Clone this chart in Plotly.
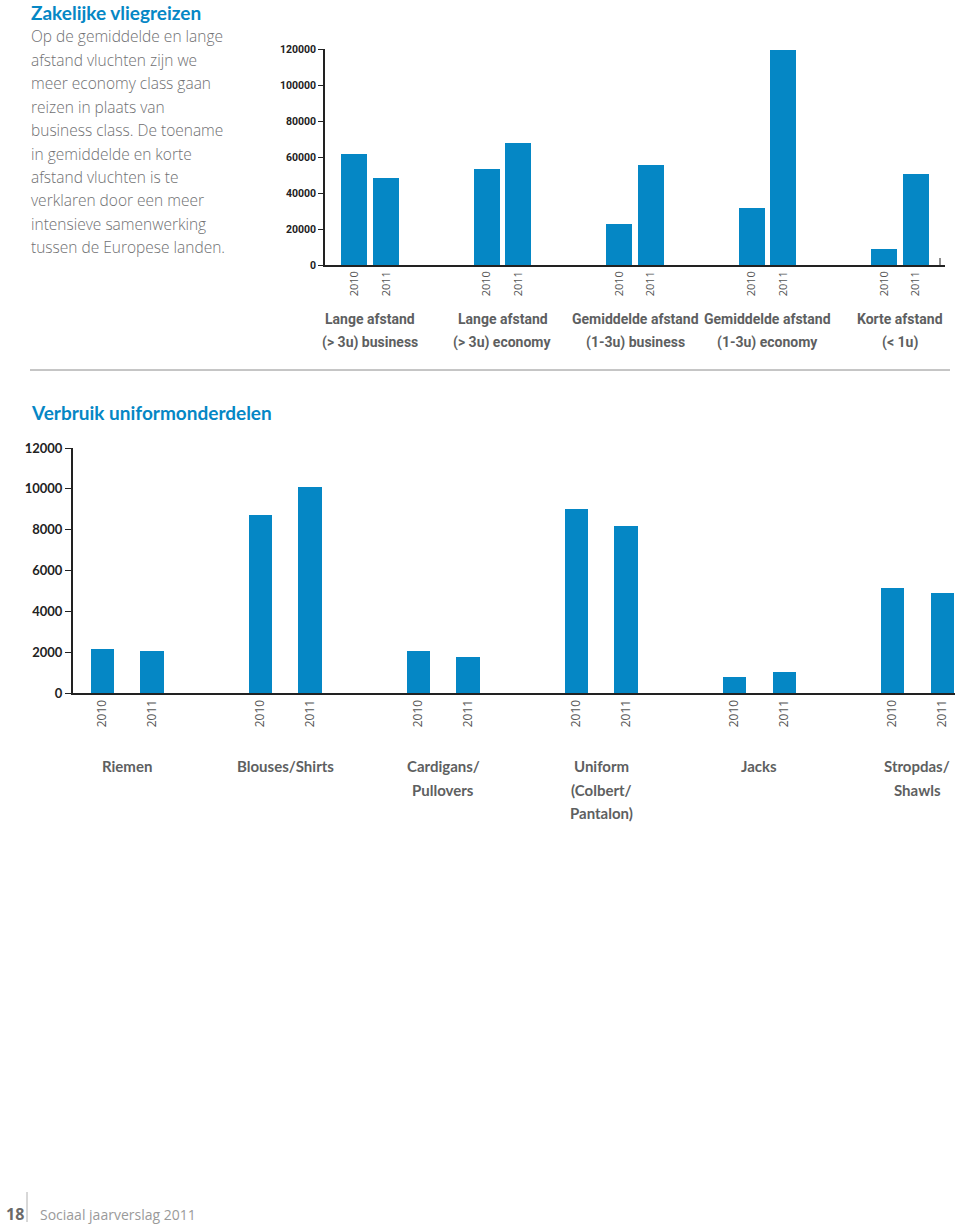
import plotly.graph_objects as go

# ---------------- data ----------------
years = ["2010", "2011"]

flight_groups = [
    ["Lange afstand", "(&gt; 3u) business"],
    ["Lange afstand", "(&gt; 3u) economy"],
    ["Gemiddelde afstand", "(1-3u) business"],
    ["Gemiddelde afstand", "(1-3u) economy"],
    ["Korte afstand", "(&lt; 1u)"],
]
flight_2010 = [61700, 53100, 23000, 31400, 9100]
flight_2011 = [48100, 67800, 55700, 119600, 50700]
flight_ticks = [0, 20000, 40000, 60000, 80000, 100000, 120000]

uniform_groups = [
    ["Riemen"],
    ["Blouses/Shirts"],
    ["Cardigans/", "Pullovers"],
    ["Uniform", "(Colbert/", "Pantalon)"],
    ["Jacks"],
    ["Stropdas/", "Shawls"],
]
uniform_2010 = [2150, 8700, 2040, 9000, 780, 5140]
uniform_2011 = [2050, 10100, 1780, 8200, 1010, 4880]
uniform_ticks = [0, 2000, 4000, 6000, 8000, 10000, 12000]

paragraph = [
    "Op de gemiddelde en lange",
    "afstand vluchten zijn we",
    "meer economy class gaan",
    "reizen in plaats van",
    "business class. De toename",
    "in gemiddelde en korte",
    "afstand vluchten is te",
    "verklaren door een meer",
    "intensieve samenwerking",
    "tussen de Europese landen.",
]

# ---------------- styling ----------------
W, H = 960, 1224
BLUE = "#0587C5"
GREY_TXT = "#6f7072"
LABEL_TXT = "#5e5f61"


def px(x):
    return x / W


def py(y):
    return 1 - y / H


fig = go.Figure()

top_off = 0.12
top_w = 0.196
for yi, (yr, vals) in enumerate(zip(years, [flight_2010, flight_2011])):
    xs = [i + (-top_off if yi == 0 else top_off) for i in range(len(vals))]
    fig.add_trace(go.Bar(x=xs, y=vals, width=top_w, marker=dict(color=BLUE, line=dict(width=0)),
                         name=yr, xaxis="x", yaxis="y", showlegend=False))

bot_off = 0.158
bot_w = 0.146
for yi, (yr, vals) in enumerate(zip(years, [uniform_2010, uniform_2011])):
    xs = [i + (-bot_off if yi == 0 else bot_off) for i in range(len(vals))]
    fig.add_trace(go.Bar(x=xs, y=vals, width=bot_w, marker=dict(color=BLUE, line=dict(width=0)),
                         name=yr, xaxis="x2", yaxis="y2", showlegend=False))

top_tickvals, top_ticktext = [], []
for i in range(len(flight_groups)):
    top_tickvals += [i - top_off, i + top_off]
    top_ticktext += years
bot_tickvals, bot_ticktext = [], []
for i in range(len(uniform_groups)):
    bot_tickvals += [i - bot_off, i + bot_off]
    bot_ticktext += years

top_dom_y = [py(265), py(49)]
bot_dom_y = [py(693), py(448)]

fig.update_layout(
    width=W, height=H, autosize=False,
    margin=dict(l=0, r=0, t=0, b=0, pad=0, autoexpand=False),
    paper_bgcolor="white", plot_bgcolor="white",
    bargap=0, showlegend=False,
    xaxis=dict(domain=[px(325), px(945)], range=[-0.34, 4.34], showgrid=False, zeroline=False,
               showline=True, linecolor="#222", linewidth=1.5, automargin=False,
               tickmode="array", tickvals=top_tickvals, ticktext=top_ticktext, tickangle=-90,
               ticks="", tickfont=dict(family="Open Sans", size=11, color="#555"), anchor="y"),
    yaxis=dict(domain=top_dom_y, range=[0, 120000], showgrid=False, zeroline=False,
               showline=True, linecolor="#222", linewidth=1.5, automargin=False,
               tickmode="array", tickvals=flight_ticks, ticktext=[str(t) for t in flight_ticks],
               ticks="outside", ticklen=5, tickcolor="#222",
               tickfont=dict(family="Roboto", size=10.5, color="#222", weight="bold"),
               anchor="x"),
    xaxis2=dict(domain=[px(73), px(955)], range=[-0.342, 5.24], showgrid=False, zeroline=False,
                showline=True, linecolor="#222", linewidth=2, automargin=False,
                tickmode="array", tickvals=bot_tickvals, ticktext=bot_ticktext, tickangle=-90,
                ticks="", tickfont=dict(family="Open Sans", size=12, color="#555"), anchor="y2"),
    yaxis2=dict(domain=bot_dom_y, range=[0, 12000], showgrid=False, zeroline=False,
                showline=True, linecolor="#222", linewidth=2, automargin=False,
                tickmode="array", tickvals=uniform_ticks, ticktext=[str(t) for t in uniform_ticks],
                ticks="outside", ticklen=6, tickcolor="#222",
                tickfont=dict(family="Lato", size=13, color="#222", weight="bold"),
                anchor="x2"),
)

ann = []
ann.append(dict(text="<b>Zakelijke vliegreizen</b>", x=px(29), y=py(13), xref="paper", yref="paper",
                xanchor="left", yanchor="middle", showarrow=False,
                font=dict(family="Lato", size=19, color=BLUE)))
for k, line in enumerate(paragraph):
    ann.append(dict(text=line, x=px(29), y=py(36 + k * 23.5), xref="paper", yref="paper",
                    xanchor="left", yanchor="middle", showarrow=False,
                    font=dict(family="Open Sans", size=15.5, color=GREY_TXT, weight=300)))

ann.append(dict(text="<b>Verbruik uniformonderdelen</b>", x=px(29), y=py(412), xref="paper", yref="paper",
                xanchor="left", yanchor="middle", showarrow=False,
                font=dict(family="Lato", size=19, color=BLUE)))

for i, lines in enumerate(flight_groups):
    for k, line in enumerate(lines):
        ann.append(dict(text="<b>" + line + "</b>", x=i, y=top_dom_y[0], xref="x", yref="paper",
                        xanchor="center", yanchor="middle", yshift=-(54 + 23 * k), showarrow=False,
                        font=dict(family="Roboto", size=14, color=LABEL_TXT)))
for i, lines in enumerate(uniform_groups):
    for k, line in enumerate(lines):
        ann.append(dict(text="<b>" + line + "</b>", x=i, y=bot_dom_y[0], xref="x2", yref="paper",
                        xanchor="center", yanchor="middle", yshift=-(73 + 23.5 * k), showarrow=False,
                        font=dict(family="Lato", size=15, color=LABEL_TXT)))

ann.append(dict(text="<b>18</b>", x=px(4), y=py(1214), xref="paper", yref="paper",
                xanchor="left", yanchor="middle", showarrow=False,
                font=dict(family="Open Sans", size=16, color="#6a6a6a")))
ann.append(dict(text="Sociaal jaarverslag 2011", x=px(38), y=py(1214), xref="paper", yref="paper",
                xanchor="left", yanchor="middle", showarrow=False,
                font=dict(family="Open Sans", size=14, color="#9a9a9a")))

fig.update_layout(annotations=ann)

fig.update_layout(shapes=[
    dict(type="line", xref="paper", yref="paper", x0=px(30), x1=px(950), y0=py(370), y1=py(370),
         line=dict(color="#8c8c8c", width=1)),
    dict(type="line", xref="paper", yref="paper", x0=px(27), x1=px(27), y0=py(1192), y1=py(1222),
         line=dict(color="#b0b0b0", width=1)),
    dict(type="line", xref="paper", yref="paper", x0=px(940), x1=px(940), y0=py(258), y1=py(265),
         line=dict(color="#222", width=1)),
])

post = (
    "document.documentElement.style.margin='0';document.documentElement.style.padding='0';"
    "document.documentElement.style.overflow='hidden';"
    "document.body.style.margin='0';document.body.style.padding='0';document.body.style.overflow='hidden';"
    "var gd=document.getElementsByClassName('plotly-graph-div')[0];"
    "gd.style.position='absolute';gd.style.left='0px';gd.style.top='0px';"
)
fig.write_html("out.html", config={"displayModeBar": False}, post_script=post)
